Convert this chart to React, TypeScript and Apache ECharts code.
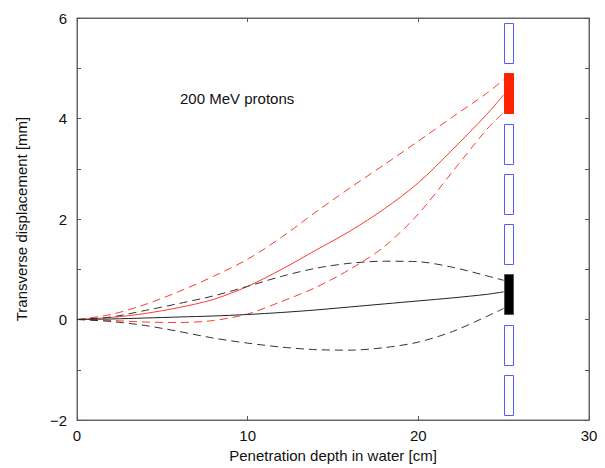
import React, { useEffect, useRef } from "react";
import * as echarts from "echarts";

const depth = [0, 2, 4, 6, 8, 10, 12, 14, 16, 18, 20, 22, 24, 25];
const redSolid = [0, 0.04, 0.12, 0.24, 0.4, 0.66, 1.0, 1.38, 1.76, 2.2, 2.72, 3.38, 4.08, 4.47];
const redUpper = [0, 0.1, 0.3, 0.56, 0.86, 1.2, 1.64, 2.14, 2.62, 3.08, 3.55, 4.03, 4.5, 4.77];
const redLower = [0, -0.02, -0.05, -0.06, -0.02, 0.11, 0.36, 0.64, 1.0, 1.45, 2.1, 2.94, 3.78, 4.12];
const blackSolid = [0, 0.01, 0.03, 0.05, 0.07, 0.1, 0.14, 0.19, 0.25, 0.31, 0.37, 0.43, 0.5, 0.55];
const blackUpper = [0, 0.05, 0.18, 0.32, 0.47, 0.66, 0.86, 1.02, 1.12, 1.16, 1.15, 1.04, 0.87, 0.78];
const blackLower = [0, -0.04, -0.12, -0.24, -0.37, -0.47, -0.55, -0.6, -0.61, -0.56, -0.45, -0.24, 0.06, 0.22];

const detectorX = [25.0, 25.55];
const detectorY = [5.5, 4.5, 3.5, 2.5, 1.5, 0.5, -0.5, -1.5];
const detectorHalfHeight = 0.4;
const detectorFill = ["none", "red", "none", "none", "none", "black", "none", "none"];

const xTicks = [0, 10, 20, 30];
const yTicks = [-2, 0, 2, 4, 6];
const annotation = "200 MeV protons";

const RED = "#ff3b30";
const FONT = "Liberation Sans, Arial, sans-serif";
const FRAME = "#666666";

const GRID = { left: 77, right: 16, top: 18, bottom: 46 };
const W = 605;
const H = 468;

function pts(ys: number[]) {
  return depth.map((x, i) => [x, ys[i]]);
}

export default function App() {
  const ref = useRef<HTMLDivElement>(null);
  useEffect(() => {
    const chart = echarts.init(ref.current!, undefined, { renderer: "svg" });
    const axisLine = () => ({ show: true, onZero: false, lineStyle: { color: FRAME, width: 1 } });
    const tick = () => ({ show: true, inside: true, length: 4, lineStyle: { color: "#555" } });
    const line = (name: string, ys: number[], color: string, dashed: boolean) => ({
      name,
      type: "line",
      data: pts(ys),
      smooth: 0.3,
      showSymbol: false,
      symbol: "none",
      lineStyle: { color, width: 1, type: dashed ? [8, 5] : "solid" },
      z: 3,
    });
    chart.setOption({
      animation: false,
      backgroundColor: "#fff",
      textStyle: { fontFamily: FONT },
      grid: { ...GRID, show: true, borderColor: FRAME, borderWidth: 1, backgroundColor: "transparent" },
      xAxis: [
        {
          type: "value",
          min: 0,
          max: 30,
          interval: 10,
          position: "bottom",
          name: "Penetration depth in water [cm]",
          nameLocation: "middle",
          nameGap: 28,
          nameTextStyle: { fontSize: 15, color: "#111", fontFamily: FONT },
          axisLine: axisLine(),
          axisTick: tick(),
          axisLabel: {
            fontSize: 15,
            color: "#111",
            fontFamily: FONT,
            margin: 8,
            formatter: (v: number) => (xTicks.includes(v) ? String(v) : ""),
          },
          splitLine: { show: false },
        },
        {
          type: "value",
          min: 0,
          max: 30,
          interval: 10,
          position: "top",
          axisLine: axisLine(),
          axisTick: tick(),
          axisLabel: { show: false },
          splitLine: { show: false },
        },
      ],
      yAxis: [
        {
          type: "value",
          min: -2,
          max: 6,
          interval: 1,
          position: "left",
          name: "Transverse displacement [mm]",
          nameLocation: "middle",
          nameGap: 48,
          nameTextStyle: { fontSize: 15, color: "#111", fontFamily: FONT },
          axisLine: axisLine(),
          axisTick: tick(),
          axisLabel: {
            fontSize: 15,
            color: "#111",
            fontFamily: FONT,
            margin: 10,
            formatter: (v: number) => (yTicks.includes(v) ? (v < 0 ? "\u2212" + Math.abs(v) : String(v)) : ""),
          },
          splitLine: { show: false },
        },
        {
          type: "value",
          min: -2,
          max: 6,
          interval: 1,
          position: "right",
          axisLine: axisLine(),
          axisTick: tick(),
          axisLabel: { show: false },
          splitLine: { show: false },
        },
      ],
      graphic: [
        {
          type: "text",
          left: 180,
          top: 91,
          style: { text: annotation, fontSize: 15, fill: "#111", fontFamily: FONT },
        },
      ],
      series: [
        line("redUpper", redUpper, RED, true),
        line("redSolid", redSolid, RED, false),
        line("redLower", redLower, RED, true),
        line("blackUpper", blackUpper, "#333", true),
        line("blackSolid", blackSolid, "#222", false),
        line("blackLower", blackLower, "#333", true),
        {
          type: "custom",
          z: 5,
          data: detectorY.map((y, i) => [detectorX[0], detectorX[1], y - detectorHalfHeight, y + detectorHalfHeight, i]),
          renderItem: (params: any, api: any) => {
            const p0 = api.coord([api.value(0), api.value(3)]);
            const p1 = api.coord([api.value(1), api.value(2)]);
            const fill = detectorFill[api.value(4)];
            const filled = fill !== "none";
            const color = fill === "red" ? "#ff2200" : "#000";
            return {
              type: "rect",
              shape: { x: Math.round(p0[0]) + 0.5, y: Math.round(p0[1]) + 0.5, width: Math.round(p1[0] - p0[0]), height: Math.round(p1[1] - p0[1]) },
              style: filled
                ? { fill: color, stroke: fill === "black" ? "#555" : color, lineWidth: 1 }
                : { fill: "none", stroke: "#5a5aff", lineWidth: 1 },
            };
          },
        },
      ],
    });
    return () => chart.dispose();
  }, []);
  return <div ref={ref} style={{ position: "absolute", left: 0, top: 0, width: W, height: H }} />;
}
